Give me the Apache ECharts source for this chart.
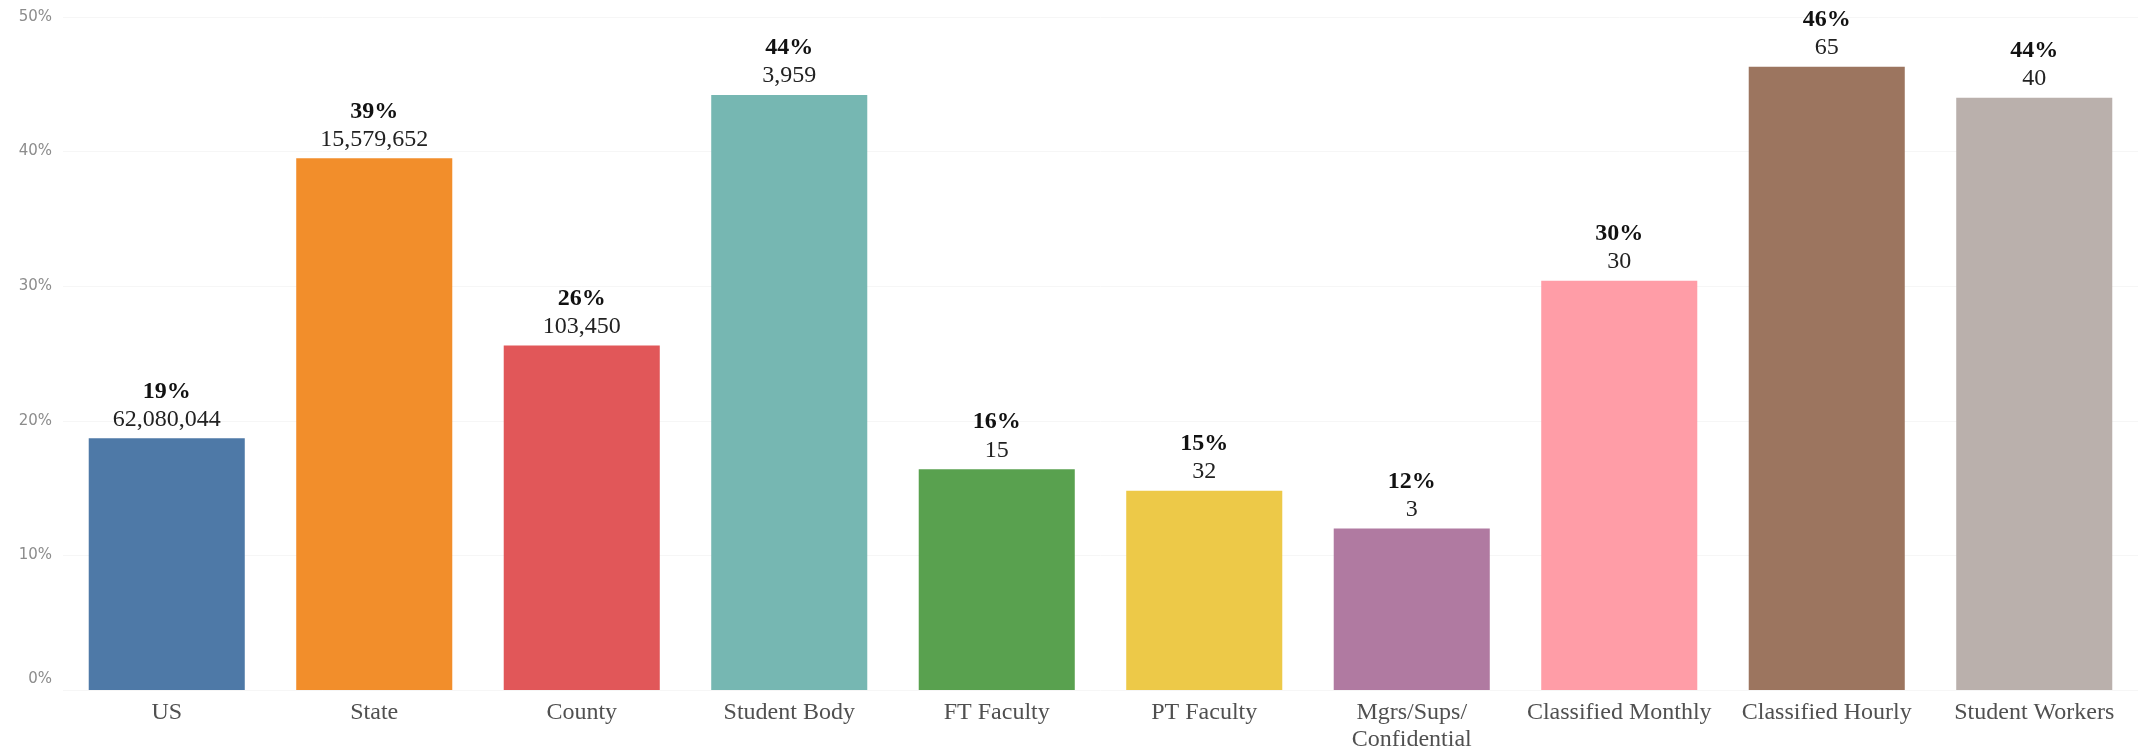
<!DOCTYPE html>
<html>
<head>
<meta charset="utf-8">
<script src="https://cdn.jsdelivr.net/npm/echarts@6/dist/echarts.min.js"></script>
<style>
  html, body { margin: 0; padding: 0; background: #ffffff; }
  #chart { width: 2138px; height: 754px; }
</style>
</head>
<body>
<div id="chart"></div>
<script>
const categories = ['US', 'State', 'County', 'Student Body', 'FT Faculty', 'PT Faculty', 'Mgrs/Sups/\nConfidential', 'Classified Monthly', 'Classified Hourly', 'Student Workers'];
const shares = [18.7, 39.5, 25.6, 44.2, 16.4, 14.8, 12.0, 30.4, 46.3, 44.0];
const pctLabels = ['19%', '39%', '26%', '44%', '16%', '15%', '12%', '30%', '46%', '44%'];
const countLabels = ['62,080,044', '15,579,652', '103,450', '3,959', '15', '32', '3', '30', '65', '40'];
const yTicks = [0, 10, 20, 30, 40, 50];

const palette = ['#4e79a7', '#f28e2b', '#e15759', '#76b7b2', '#59a14f', '#edc948', '#b07aa1', '#ff9da7', '#9c755f', '#bab0ac'];

const chart = echarts.init(document.getElementById('chart'), null, { renderer: 'canvas' });

const option = {
  animation: false,
  backgroundColor: '#ffffff',
  grid: { left: 63, top: 17, bottom: 64, width: 2087, containLabel: false },
  xAxis: {
    type: 'category',
    data: categories,
    axisLine: { show: false },
    axisTick: { show: false },
    axisLabel: {
      interval: 0,
      margin: 9,
      color: '#505050',
      fontFamily: 'Liberation Serif',
      fontSize: 24,
      lineHeight: 27
    }
  },
  yAxis: {
    type: 'value',
    min: yTicks[0],
    max: yTicks[yTicks.length - 1],
    interval: 10,
    axisLine: { show: false },
    axisTick: { show: false },
    splitLine: { show: true, lineStyle: { color: '#f6f6f6', width: 1 } },
    axisLabel: {
      margin: 11,
      color: '#8c8c8c',
      fontFamily: 'DejaVu Sans',
      fontSize: 15,
      formatter: function (v) {
        return v === 0 ? '{z|0%}' : v + '%';
      },
      rich: {
        z: { color: '#8c8c8c', fontFamily: 'DejaVu Sans', fontSize: 15, padding: [0, 0, 22, 0] }
      }
    }
  },
  series: [{
    type: 'bar',
    barCategoryGap: '24.8%',
    data: shares.map(function (v, i) {
      return { value: v, itemStyle: { color: palette[i] } };
    }),
    label: {
      show: true,
      position: 'top',
      distance: 5,
      formatter: function (p) {
        return '{p|' + pctLabels[p.dataIndex] + '}\n{c|' + countLabels[p.dataIndex] + '}';
      },
      rich: {
        p: { fontFamily: 'Liberation Serif', fontWeight: 'bold', fontSize: 24, color: '#111111', lineHeight: 28, align: 'center' },
        c: { fontFamily: 'Liberation Serif', fontSize: 24, color: '#222222', lineHeight: 28, align: 'center' }
      }
    }
  }]
};

chart.setOption(option);
</script>
</body>
</html>
